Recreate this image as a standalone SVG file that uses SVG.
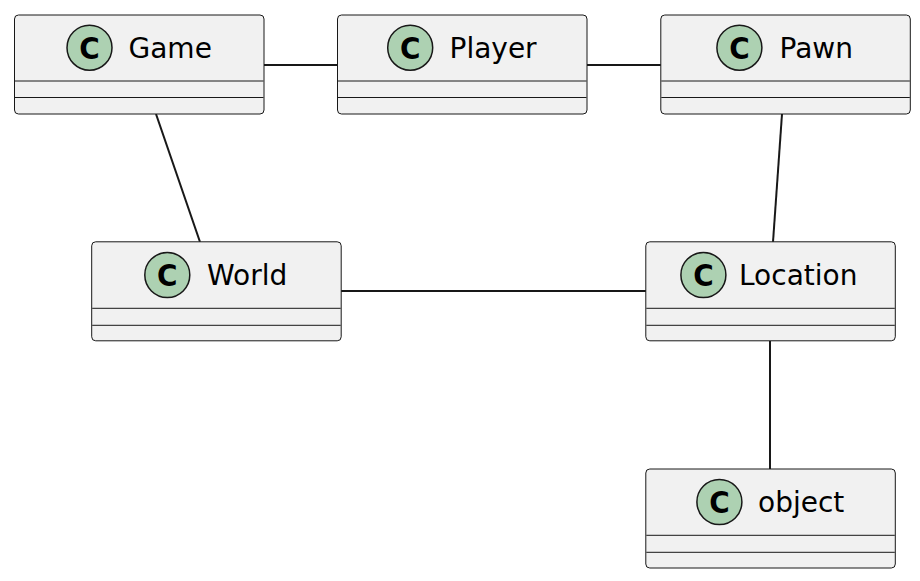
<svg xmlns="http://www.w3.org/2000/svg" width="920" height="581" viewBox="0 0 920 581">
<style>
.box{fill:#F1F1F1;stroke:#181818;stroke-width:1}
.div{stroke:#181818;stroke-width:1}
.circ{fill:#ADD1B2;stroke:#181818;stroke-width:1.5}
.c{font-family:"DejaVu Sans Condensed","DejaVu Sans",sans-serif;font-weight:bold;font-size:31px;fill:#000;text-anchor:middle}
.name{font-family:"DejaVu Sans",sans-serif;font-size:28px;fill:#000}
.edge{stroke:#181818;stroke-width:2;fill:none}
</style>
<rect width="920" height="581" fill="#FFFFFF"/>
<g id="connectors">
<line class="edge" x1="264" y1="65" x2="338" y2="65"/>
<line class="edge" x1="587" y1="65" x2="661" y2="65"/>
<line class="edge" x1="156" y1="114" x2="200" y2="242"/>
<line class="edge" x1="782" y1="114" x2="773" y2="242"/>
<line class="edge" x1="341" y1="291" x2="646" y2="291"/>
<line class="edge" x1="770" y1="341" x2="770" y2="469"/>
</g>
<g id="Game">
<rect class="box" x="14.5" y="15" width="249.5" height="99" rx="4"/>
<line class="div" x1="15" y1="81" x2="263.5" y2="81"/>
<line class="div" x1="15" y1="97.5" x2="263.5" y2="97.5"/>
<circle class="circ" cx="89.5" cy="47.7" r="22.5"/>
<text class="c" x="89.5" y="58.8">C</text>
<text class="name" x="128.5" y="58">Game</text>
</g>
<g id="Player">
<rect class="box" x="337.5" y="15" width="249.5" height="99" rx="4"/>
<line class="div" x1="338" y1="81" x2="586.5" y2="81"/>
<line class="div" x1="338" y1="97.5" x2="586.5" y2="97.5"/>
<circle class="circ" cx="410.2" cy="47.7" r="22.5"/>
<text class="c" x="410.2" y="58.8">C</text>
<text class="name" x="449.5" y="58">Player</text>
</g>
<g id="Pawn">
<rect class="box" x="660.8" y="15" width="249.5" height="99" rx="4"/>
<line class="div" x1="661.3" y1="81" x2="909.8" y2="81"/>
<line class="div" x1="661.3" y1="97.5" x2="909.8" y2="97.5"/>
<circle class="circ" cx="739.4" cy="47.7" r="22.5"/>
<text class="c" x="739.4" y="58.8">C</text>
<text class="name" x="779.5" y="58">Pawn</text>
</g>
<g id="World">
<rect class="box" x="91.7" y="241.8" width="249.5" height="99" rx="4"/>
<line class="div" x1="92.2" y1="308.3" x2="340.7" y2="308.3"/>
<line class="div" x1="92.2" y1="325.3" x2="340.7" y2="325.3"/>
<circle class="circ" cx="167.3" cy="275" r="22.5"/>
<text class="c" x="167.3" y="286.1">C</text>
<text class="name" x="207" y="285.3">World</text>
</g>
<g id="Location">
<rect class="box" x="645.8" y="241.8" width="249.5" height="99" rx="4"/>
<line class="div" x1="646.3" y1="308.3" x2="894.8" y2="308.3"/>
<line class="div" x1="646.3" y1="325.3" x2="894.8" y2="325.3"/>
<circle class="circ" cx="703.4" cy="275" r="22.5"/>
<text class="c" x="703.4" y="286.1">C</text>
<text class="name" x="739" y="285.3">Location</text>
</g>
<g id="object">
<rect class="box" x="645.8" y="469" width="249.5" height="99" rx="4"/>
<line class="div" x1="646.3" y1="535.3" x2="894.8" y2="535.3"/>
<line class="div" x1="646.3" y1="552.3" x2="894.8" y2="552.3"/>
<circle class="circ" cx="719.4" cy="502" r="22.5"/>
<text class="c" x="719.4" y="513.1">C</text>
<text class="name" x="758" y="512.3">object</text>
</g>
</svg>
